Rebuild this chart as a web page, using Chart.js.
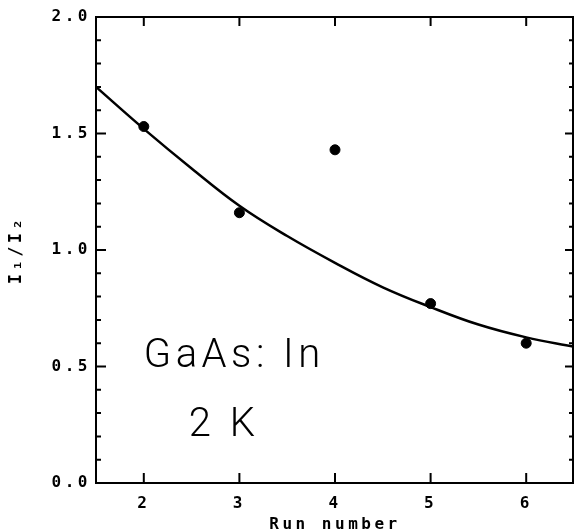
<!DOCTYPE html>
<html>
<head>
<meta charset="utf-8">
<script src="https://cdn.jsdelivr.net/npm/chart.js@4.4.0/dist/chart.umd.min.js"></script>
<style>
	html, body { margin: 0; padding: 0; background: #fff; }
	canvas { display: block; }
</style>
</head>
<body>
<canvas id="js-ratio-chart" width="575" height="531"></canvas>
<script>
// measured points: run number vs I1/I2
const runNumbers = [2, 3, 4, 5, 6];
const ratioValues = [1.53, 1.16, 1.43, 0.77, 0.60];

// fitted curve, every half run
const curveX = [1.5, 2, 2.5, 3, 3.5, 4, 4.5, 5, 5.5, 6, 6.5];
const curveY = [1.70, 1.52, 1.35, 1.19, 1.06, 0.945, 0.84, 0.755, 0.68, 0.625, 0.585];

const xTicks = [2, 3, 4, 5, 6];
const yLabels = ['0.0', '0.5', '1.0', '1.5', '2.0'];

const tickFont = { family: 'DejaVu Sans Mono', size: 16, weight: 'bold' };

const framePlugin = {
	id: 'frame',
	beforeDraw(chart) {
		chart.ctx.letterSpacing = '3.5px';
	},
	afterDraw(chart) {
		const ctx = chart.ctx;
		const area = chart.chartArea;
		const xs = chart.scales.x;
		const ys = chart.scales.y;
		ctx.save();
		ctx.letterSpacing = '0px';
		ctx.strokeStyle = '#000';
		ctx.lineWidth = 2;
		ctx.strokeRect(area.left, area.top, area.right - area.left - 1, area.bottom - area.top);
		ctx.beginPath();
		// y ticks, inward on both sides
		ys.ticks.forEach((t) => {
			const y = ys.getPixelForValue(t.value);
			const major = Math.abs(t.value * 2 - Math.round(t.value * 2)) < 1e-6;
			ctx.moveTo(area.left, y);
			ctx.lineTo(area.left + (major ? 10 : 5), y);
			ctx.moveTo(area.right - 1, y);
			ctx.lineTo(area.right - 1 - (major ? 8 : 4), y);
		});
		// x ticks, inward on top and bottom
		xTicks.forEach((v) => {
			const x = xs.getPixelForValue(v);
			ctx.moveTo(x, area.bottom);
			ctx.lineTo(x, area.bottom - 10);
			ctx.moveTo(x, area.top);
			ctx.lineTo(x, area.top + 9);
		});
		ctx.stroke();

		// sample label
		ctx.fillStyle = '#000';
		ctx.font = '300 40px Roboto';
		ctx.letterSpacing = '4.5px';
		ctx.textBaseline = 'alphabetic';
		ctx.textAlign = 'left';
		ctx.fillText('GaAs: In', xs.getPixelForValue(2.0), ys.getPixelForValue(0.5));
		ctx.fillText('2 K', xs.getPixelForValue(2.47), ys.getPixelForValue(0.2));
		ctx.restore();
	},
};

const ctx = document.getElementById('js-ratio-chart');
const myChart = new Chart(ctx, {
	type: 'scatter',
	data: {
		datasets: [
			{
				type: 'line',
				data: curveX.map((x, i) => ({ x: x, y: curveY[i] })),
				borderColor: '#000',
				borderWidth: 2.5,
				pointRadius: 0,
				tension: 0.4,
				fill: false,
			},
			{
				data: runNumbers.map((x, i) => ({ x: x, y: ratioValues[i] })),
				backgroundColor: '#000',
				borderColor: '#000',
				pointRadius: 5,
			},
		],
	},
	options: {
		responsive: false,
		animation: false,
		devicePixelRatio: 1,
		layout: {
			autoPadding: false,
			padding: { top: 17, right: 1, left: 0, bottom: 0 },
		},
		plugins: {
			legend: { display: false },
			tooltip: { enabled: false },
		},
		scales: {
			x: {
				type: 'linear',
				position: 'bottom',
				min: 1.5,
				max: 6.5,
				afterBuildTicks: (scale) => {
					scale.ticks = xTicks.map((v) => ({ value: v }));
				},
				afterFit: (scale) => {
					scale.height = 48;
					scale.paddingLeft = 0;
					scale.paddingRight = 0;
				},
				ticks: {
					color: '#000',
					font: tickFont,
					padding: 11,
					maxRotation: 0,
					autoSkip: false,
				},
				grid: { drawOnChartArea: false, drawTicks: false },
				border: { display: false },
				title: {
					display: true,
					text: 'Run number',
					color: '#000',
					font: tickFont,
					padding: { top: 0, bottom: -3 },
				},
			},
			y: {
				min: 0,
				max: 2,
				afterFit: (scale) => {
					scale.width = 96;
					scale.paddingTop = 0;
					scale.paddingBottom = 0;
				},
				ticks: {
					stepSize: 0.1,
					autoSkip: false,
					color: '#000',
					font: tickFont,
					padding: 5,
					callback: (v) => {
						const i = Math.round(v * 2);
						return Math.abs(v * 2 - i) < 1e-6 ? yLabels[i] : '';
					},
				},
				grid: { drawOnChartArea: false, drawTicks: false },
				border: { display: false },
				title: {
					display: true,
					text: 'I₁/I₂',
					color: '#000',
					font: { family: 'DejaVu Sans Mono', size: 17, weight: 'bold' },
					padding: { top: 6, bottom: 0 },
				},
			},
		},
	},
	plugins: [framePlugin],
});
</script>
</body>
</html>
